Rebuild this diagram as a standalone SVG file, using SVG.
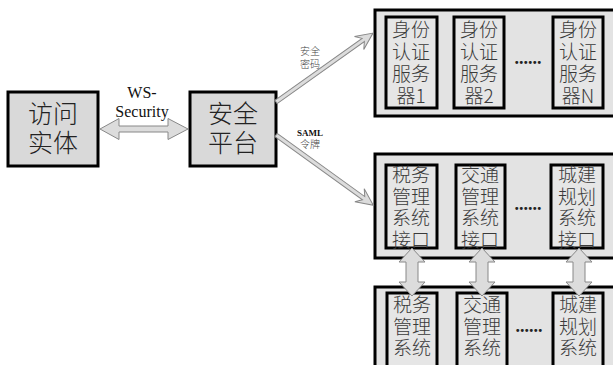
<svg xmlns="http://www.w3.org/2000/svg" width="613" height="365" viewBox="0 0 613 365">
<style>
.main{fill:#d9d9d9;stroke:#000;stroke-width:3}
.outer{fill:#e3e3e3;stroke:#000;stroke-width:3}
.inner{fill:#e6e6e6;stroke:#000;stroke-width:3}
.arr{fill:#dcdcdc;stroke:#888;stroke-width:1}
.big{font-family:"Noto Sans CJK SC","Liberation Serif",serif;font-size:25px;font-weight:300;fill:#222;text-anchor:middle}
.t{font-family:"Noto Sans CJK SC","Liberation Serif",serif;font-size:19px;font-weight:300;fill:#3a3a3a;text-anchor:middle}
.lab{font-family:"Liberation Serif","Noto Sans CJK SC",serif;font-size:16px;fill:#111;text-anchor:middle}
.sm{font-family:"Noto Sans CJK SC",serif;font-size:10px;font-weight:300;fill:#444;text-anchor:middle}
.dots{font-family:"Liberation Serif",serif;font-size:18px;font-weight:bold;fill:#222;text-anchor:middle}
</style>
<rect width="613" height="365" fill="#fff"/>
<g id="visitor">
<rect class="main" x="8" y="92" width="90" height="74"/>
<text class="big" x="53" y="123">访问</text>
<text class="big" x="53" y="152">实体</text>
</g>
<g id="platform">
<rect class="main" x="190" y="92" width="86" height="74"/>
<text class="big" x="233" y="123">安全</text>
<text class="big" x="233" y="152">平台</text>
</g>
<g id="auth-group">
<rect class="outer" x="375" y="10" width="245" height="106"/>
<g id="auth1"><rect class="inner" x="386" y="17" width="51" height="91"/>
<text class="t" x="411" y="37">身份</text><text class="t" x="411" y="59">认证</text><text class="t" x="411" y="81">服务</text><text class="t" x="411" y="103">器1</text></g>
<g id="auth2"><rect class="inner" x="454" y="17" width="50" height="91"/>
<text class="t" x="479" y="37">身份</text><text class="t" x="479" y="59">认证</text><text class="t" x="479" y="81">服务</text><text class="t" x="479" y="103">器2</text></g>
<text class="dots" x="528" y="64">......</text>
<g id="authN"><rect class="inner" x="553" y="17" width="50" height="91"/>
<text class="t" x="578" y="37">身份</text><text class="t" x="578" y="59">认证</text><text class="t" x="578" y="81">服务</text><text class="t" x="578" y="103">器N</text></g>
</g>
<g id="iface-group">
<rect class="outer" x="375" y="154" width="245" height="104"/>
<g id="iface1"><rect class="inner" x="386" y="165" width="51" height="83"/>
<text class="t" x="411" y="182">税务</text><text class="t" x="411" y="204">管理</text><text class="t" x="411" y="225">系统</text><text class="t" x="411" y="247">接口</text></g>
<g id="iface2"><rect class="inner" x="456" y="165" width="49" height="83"/>
<text class="t" x="480" y="182">交通</text><text class="t" x="480" y="204">管理</text><text class="t" x="480" y="225">系统</text><text class="t" x="480" y="247">接口</text></g>
<text class="dots" x="528" y="210">......</text>
<g id="iface3"><rect class="inner" x="551" y="165" width="52" height="83"/>
<text class="t" x="577" y="182">城建</text><text class="t" x="577" y="204">规划</text><text class="t" x="577" y="225">系统</text><text class="t" x="577" y="247">接口</text></g>
</g>
<g id="sys-group">
<rect class="outer" x="375" y="287" width="245" height="90"/>
<g id="sys1"><rect class="inner" x="387" y="293" width="50" height="80"/>
<text class="t" x="412" y="312">税务</text><text class="t" x="412" y="334">管理</text><text class="t" x="412" y="355">系统</text></g>
<g id="sys2"><rect class="inner" x="457" y="293" width="50" height="80"/>
<text class="t" x="482" y="312">交通</text><text class="t" x="482" y="334">管理</text><text class="t" x="482" y="355">系统</text></g>
<text class="dots" x="529" y="332">......</text>
<g id="sys3"><rect class="inner" x="553" y="293" width="50" height="80"/>
<text class="t" x="578" y="312">城建</text><text class="t" x="578" y="334">规划</text><text class="t" x="578" y="355">系统</text></g>
</g>
<g id="connectors">
<polygon class="arr" points="100,129 119,118.5 119,126 168,126 168,118.5 188,129 168,139.5 168,132 119,132 119,139.5"/>
<polygon class="arr" transform="translate(276,102) rotate(-35.4)" points="0,-2 107,-2 102,-8 119,0 102,8 107,2 0,2"/>
<polygon class="arr" transform="translate(276,135) rotate(35.8)" points="0,-2 108,-2 103,-8 120,0 103,8 108,2 0,2"/>
<polygon class="arr" points="412,248 425,262 418,262 418,282 425,282 412,296 399,282 406,282 406,262 399,262"/>
<polygon class="arr" points="482,248 495,262 488,262 488,282 495,282 482,296 469,282 476,282 476,262 469,262"/>
<polygon class="arr" points="579,248 592,262 585,262 585,282 592,282 579,296 566,282 573,282 573,262 566,262"/>
</g>
<g id="labels">
<text class="lab" x="142" y="98">WS-</text>
<text class="lab" x="142" y="117">Security</text>
<text class="sm" x="310" y="55">安全</text>
<text class="sm" x="310" y="68">密码</text>
<text class="lab" x="310" y="136" style="font-size:9px;font-weight:bold">SAML</text>
<text class="sm" x="310" y="148">令牌</text>
</g>
</svg>
